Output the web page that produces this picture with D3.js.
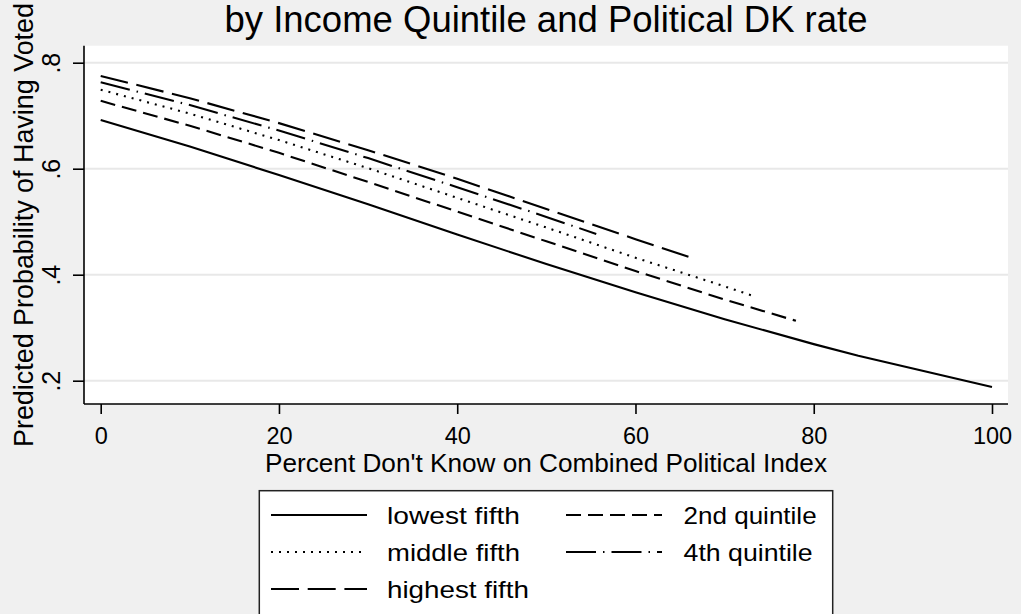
<!DOCTYPE html>
<html>
<head>
<meta charset="utf-8">
<script src="https://cdn.jsdelivr.net/npm/d3@7"></script>
<style>
  html, body { margin: 0; padding: 0; background: #f0f0f0; }
  svg { display: block; }
  text { font-family: "Liberation Sans", Arial, Helvetica, sans-serif; fill: #000; }
</style>
</head>
<body>
<svg id="chart" width="1021" height="614"></svg>
<script>
// Percent DK on the combined political index (x) and predicted probability of voting (y)
const lowestX  = [0, 10, 20, 30, 40, 50, 60, 70, 80, 85, 100];
const lowestY  = [0.692, 0.642, 0.588, 0.533, 0.476, 0.420, 0.367, 0.316, 0.269, 0.247, 0.188];
const secondX  = [0, 10, 20, 30, 40, 50, 60, 70, 78];
const secondY  = [0.728, 0.681, 0.630, 0.575, 0.519, 0.463, 0.407, 0.353, 0.313];
const middleX  = [0, 10, 20, 30, 40, 50, 60, 70, 73.2];
const middleY  = [0.749, 0.704, 0.654, 0.601, 0.545, 0.489, 0.432, 0.378, 0.360];
const fourthX  = [0, 10, 20, 30, 40, 50, 55.6];
const fourthY  = [0.763, 0.720, 0.672, 0.620, 0.565, 0.509, 0.477];
const highestX = [0, 10, 20, 30, 40, 50, 60, 66.8];
const highestY = [0.775, 0.733, 0.686, 0.635, 0.581, 0.524, 0.467, 0.429];

const seriesNames = ["lowest fifth", "2nd quintile", "middle fifth", "4th quintile", "highest fifth"];
const xTicks = [0, 20, 40, 60, 80, 100];
const yTicks = [0.2, 0.4, 0.6, 0.8];
const yTickLabels = [".2", ".4", ".6", ".8"];

const titleText = "by Income Quintile and Political DK rate";
const xTitle = "Percent Don't Know on Combined Political Index";
const yTitle = "Predicted Probability of Having Voted";

// line patterns per series
const dashes = [null, "15,7", "2,6", "30,7,1.5,7", "28,8.7"];

const series = [
  { name: seriesNames[0], xs: lowestX,  ys: lowestY,  dash: dashes[0] },
  { name: seriesNames[1], xs: secondX,  ys: secondY,  dash: dashes[1] },
  { name: seriesNames[2], xs: middleX,  ys: middleY,  dash: dashes[2] },
  { name: seriesNames[3], xs: fourthX,  ys: fourthY,  dash: dashes[3] },
  { name: seriesNames[4], xs: highestX, ys: highestY, dash: dashes[4] }
];

const svg = d3.select("#chart");
const plot = { left: 84, right: 1008, top: 45.7, bottom: 404 };

const x = d3.scaleLinear().domain([0, 100]).range([100.7, 992]);
const y = d3.scaleLinear().domain([0.2, 0.8]).range([380.7, 62.7]);

// background
svg.append("rect").attr("width", 1021).attr("height", 614).attr("fill", "#f0f0f0");
svg.append("rect")
  .attr("x", plot.left).attr("y", plot.top)
  .attr("width", plot.right - plot.left).attr("height", plot.bottom - plot.top)
  .attr("fill", "#fff");

// horizontal gridlines
svg.append("g").selectAll("line").data(yTicks).join("line")
  .attr("x1", plot.left).attr("x2", plot.right)
  .attr("y1", d => y(d)).attr("y2", d => y(d))
  .attr("stroke", "#e8e8e8").attr("stroke-width", 2);

// y axis
const yAxis = d3.axisLeft(y).tickValues(yTicks).tickSize(11)
  .tickFormat((d, i) => yTickLabels[i]);
const gy = svg.append("g").attr("transform", `translate(${plot.left},0)`).call(yAxis);
gy.select(".domain").attr("d", `M0,${plot.top}V${plot.bottom}`)
  .attr("stroke", "#000").attr("stroke-width", 1.6);
gy.selectAll(".tick line").attr("stroke", "#000").attr("stroke-width", 1.6);
gy.selectAll(".tick text")
  .attr("x", null).attr("dy", null)
  .attr("transform", "translate(-24,0) rotate(-90)")
  .attr("text-anchor", "middle")
  .style("font-family", "'Liberation Sans', Arial, sans-serif")
  .style("font-size", "25px");

// x axis
const xAxis = d3.axisBottom(x).tickValues(xTicks).tickSize(10).tickFormat(d3.format("d"));
const gx = svg.append("g").attr("transform", `translate(0,${plot.bottom})`).call(xAxis);
gx.select(".domain").attr("d", `M${plot.left},0H${plot.right}`)
  .attr("stroke", "#000").attr("stroke-width", 1.6);
gx.selectAll(".tick line").attr("stroke", "#000").attr("stroke-width", 1.6);
gx.selectAll(".tick text")
  .attr("y", 39.5).attr("dy", null)
  .style("font-family", "'Liberation Sans', Arial, sans-serif")
  .style("font-size", "23.5px");

// prediction curves
const line = d3.line().x(d => x(d[0])).y(d => y(d[1]));
svg.append("g").selectAll("path").data(series).join("path")
  .attr("d", s => line(s.xs.map((v, i) => [v, s.ys[i]])))
  .attr("fill", "none").attr("stroke", "#000").attr("stroke-width", 2.1)
  .attr("stroke-dasharray", s => s.dash);

// titles
svg.append("text").attr("x", 546).attr("y", 32).attr("text-anchor", "middle")
  .attr("textLength", 643).attr("lengthAdjust", "spacingAndGlyphs")
  .style("font-size", "36px").text(titleText);

svg.append("text").attr("x", 546).attr("y", 472).attr("text-anchor", "middle")
  .attr("textLength", 562).attr("lengthAdjust", "spacingAndGlyphs")
  .style("font-size", "25px").text(xTitle);

svg.append("text").attr("transform", "translate(33,225) rotate(-90)").attr("text-anchor", "middle")
  .attr("textLength", 444).attr("lengthAdjust", "spacingAndGlyphs")
  .style("font-size", "27px").text(yTitle);

// legend
const legend = svg.append("g");
legend.append("rect").attr("x", 259.3).attr("y", 490.7)
  .attr("width", 573.4).attr("height", 140)
  .attr("fill", "#fff").attr("stroke", "#222").attr("stroke-width", 1.5);

const legendPos = [
  { sx: 271, tx: 387, row: 0 },
  { sx: 566, tx: 683.6, row: 0 },
  { sx: 271, tx: 387, row: 1 },
  { sx: 566, tx: 683.6, row: 1 },
  { sx: 271, tx: 387, row: 2 }
];
const textWidths = [133, 133, 133, 129, 142];
const rowY = [515, 552, 589];

series.forEach((s, i) => {
  const p = legendPos[i];
  legend.append("line")
    .attr("x1", p.sx).attr("x2", p.sx + 96)
    .attr("y1", rowY[p.row]).attr("y2", rowY[p.row])
    .attr("stroke", "#000").attr("stroke-width", 2.1)
    .attr("stroke-dasharray", s.dash);
  legend.append("text").attr("x", p.tx).attr("y", rowY[p.row] + 9)
    .attr("textLength", textWidths[i]).attr("lengthAdjust", "spacingAndGlyphs")
    .style("font-size", "24px").text(s.name);
});
</script>
</body>
</html>
